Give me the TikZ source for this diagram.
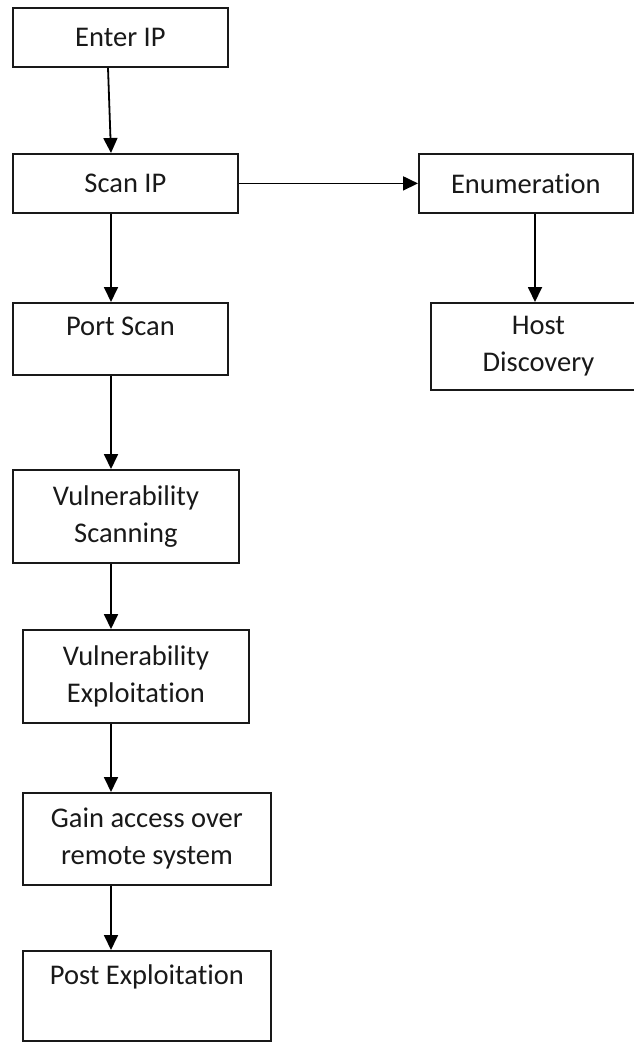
\documentclass[tikz,border=0pt]{standalone}
\usepackage{fontspec}
\setmainfont{Carlito}[Ligatures={NoCommon,NoContextual}]
\usetikzlibrary{arrows.meta}
\newcommand{\nolig}{\kern0pt{}}
\begin{document}
\begin{tikzpicture}[x=1pt,y=-1pt,
  box/.style={draw=black!90, line width=1.8pt, rectangle, anchor=north west, align=center,
    inner sep=0pt, text=black!90, font=\fontsize{28.5}{37}\selectfont},
  arr/.style={line width=1.8pt, -{Triangle[length=15pt,width=14pt]}}]
\clip (0,0) rectangle (634,1042);
\fill[white] (0,0) rectangle (634,1042);
\coordinate (ax) at (108,0);
\coordinate (bx) at (111,0);
\coordinate (hx) at (535,0);
\node[box, minimum width=215pt, minimum height=59pt] (enter) at (12,7) {Enter IP};
\node[box, minimum width=225pt, minimum height=59pt] (scan) at (12,153) {Scan IP};
\node[box, minimum width=214pt, minimum height=59pt] (enum) at (418,153) {Enumerat\nolig ion};
\node[box, minimum width=215pt, minimum height=87pt] (host) at (430,302) {Host\\Discovery};
\node[box, minimum width=215pt, minimum height=72pt, text depth=26pt] (port) at (12,302) {Port Scan};
\node[box, minimum width=226pt, minimum height=93pt] (vscan) at (12,469) {Vulnerability\\Scanning};
\node[box, minimum width=226pt, minimum height=93pt] (vexp) at (22,629) {Vulnerability\\Exploitat\nolig ion};
\node[box, minimum width=248pt, minimum height=92pt] (gain) at (22,792) {Gain access over\\remote system};
\node[box, minimum width=248pt, minimum height=90pt, text depth=43pt] (post) at (22,950) {Post Exploitat\nolig ion};
\draw[arr] (enter.south -| ax) -- (scan.north -| bx);
\draw[arr] (scan.east) -- (enum.west);
\draw[arr] (enum.south -| hx) -- (host.north -| hx);
\draw[arr] (scan.south -| bx) -- (port.north -| bx);
\draw[arr] (port.south -| bx) -- (vscan.north -| bx);
\draw[arr] (vscan.south -| bx) -- (vexp.north -| bx);
\draw[arr] (vexp.south -| bx) -- (gain.north -| bx);
\draw[arr] (gain.south -| bx) -- (post.north -| bx);
\end{tikzpicture}
\end{document}
